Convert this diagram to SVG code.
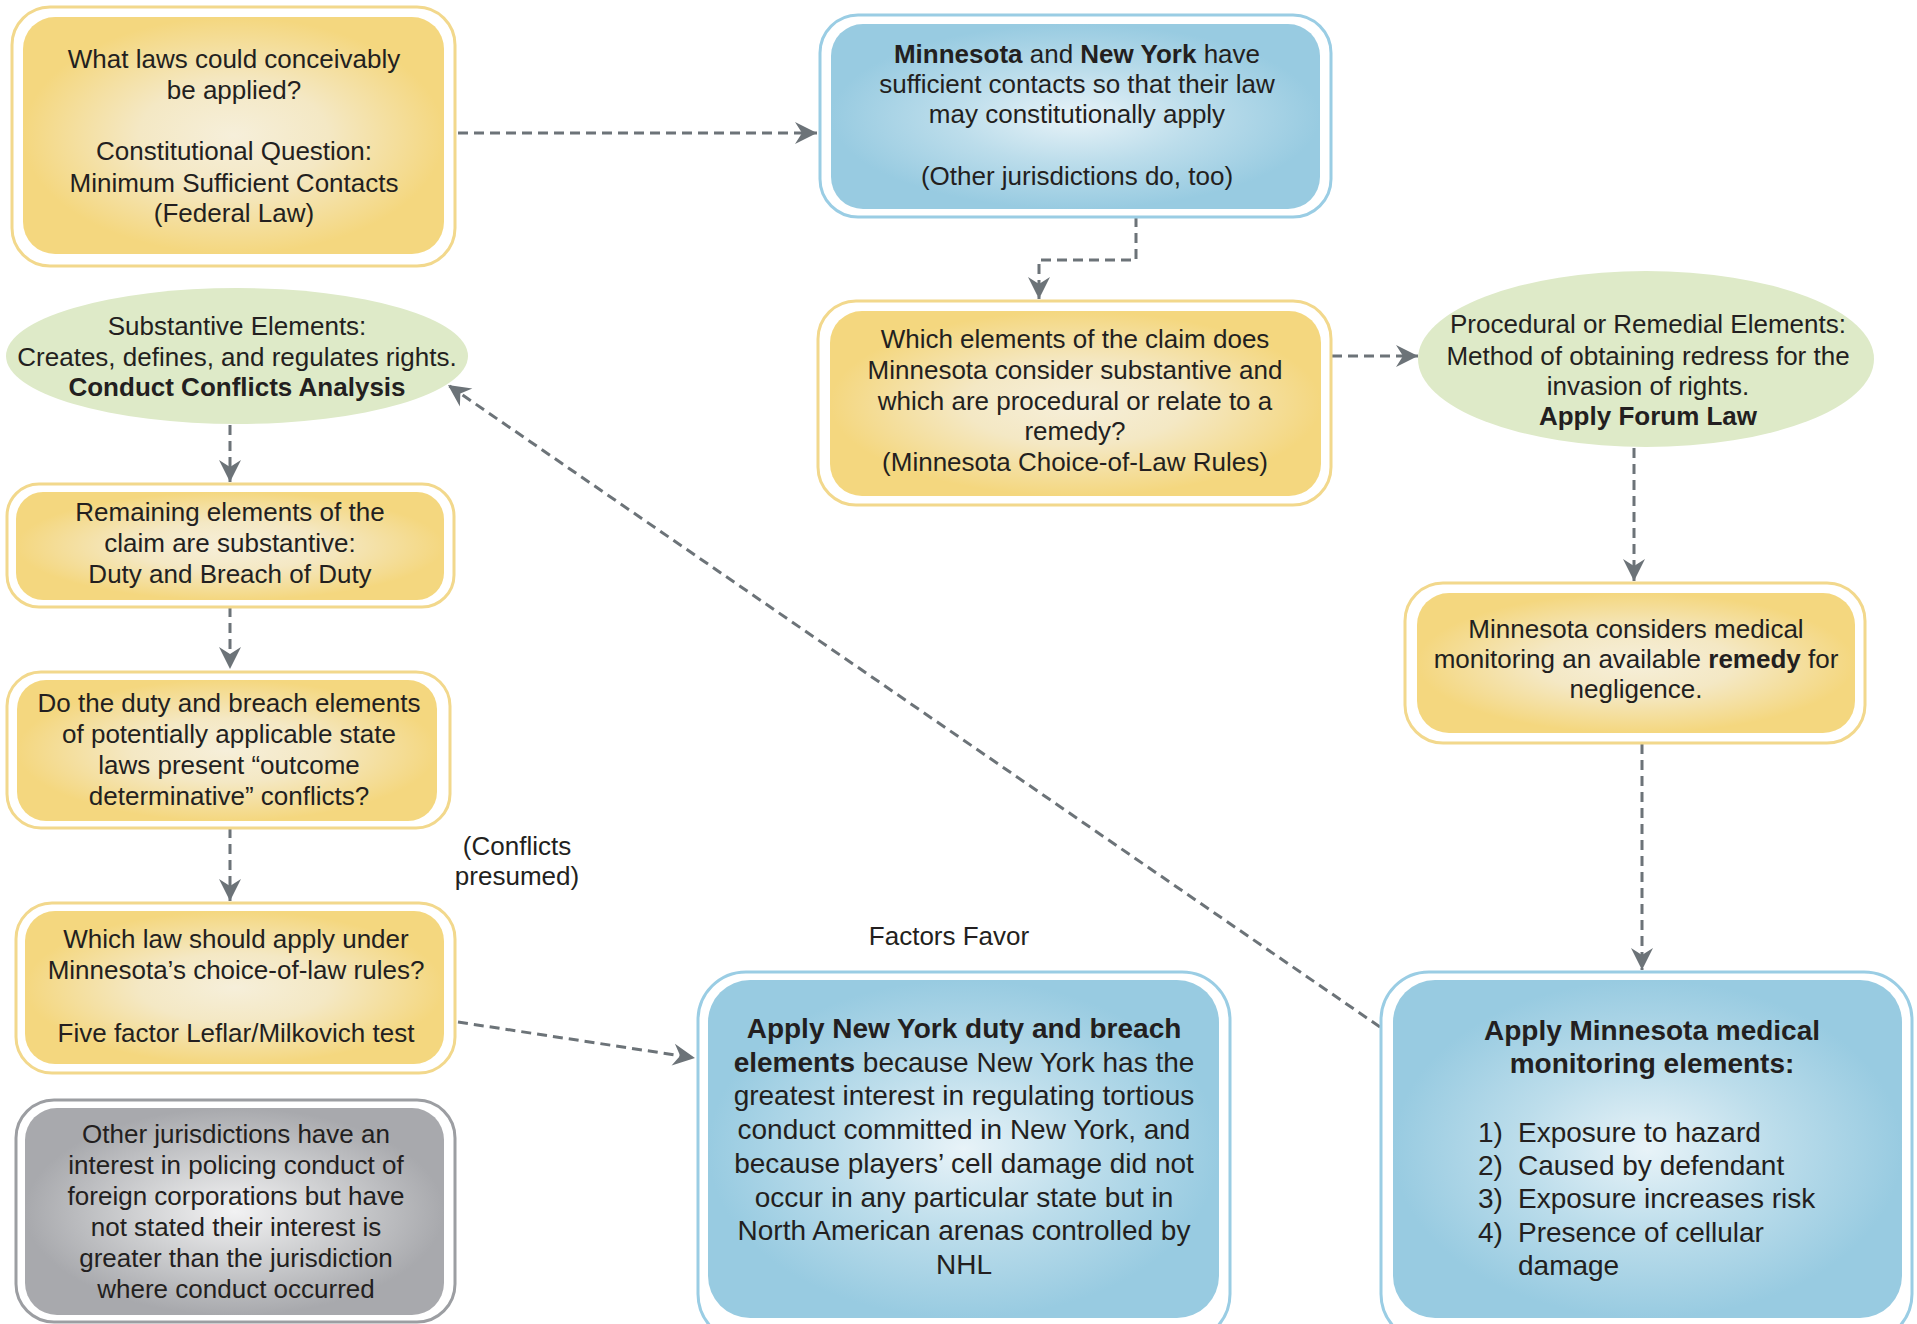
<svg xmlns="http://www.w3.org/2000/svg" width="1917" height="1324" viewBox="0 0 1917 1324">
<defs>
<radialGradient id="gy" cx="50%" cy="50%" r="50%">
<stop offset="0" stop-color="#F6EFDA"/>
<stop offset="0.45" stop-color="#F4E8C4"/>
<stop offset="1" stop-color="#F4D77F"/>
</radialGradient>
<radialGradient id="gb" cx="50%" cy="50%" r="50%">
<stop offset="0" stop-color="#E8F3F8"/>
<stop offset="0.5" stop-color="#BCDDEB"/>
<stop offset="1" stop-color="#98CBE1"/>
</radialGradient>
<radialGradient id="gg" cx="50%" cy="50%" r="50%">
<stop offset="0" stop-color="#F2F2F3"/>
<stop offset="0.5" stop-color="#CDCED0"/>
<stop offset="1" stop-color="#A8A9AD"/>
</radialGradient>
<marker id="ah" viewBox="-24 -12 26 24" refX="0" refY="0" markerWidth="26" markerHeight="24" markerUnits="userSpaceOnUse" orient="auto">
<path d="M0,0 L-22,-11 L-15,0 L-22,11 Z" fill="#6C7378"/>
</marker>
<style>
.oy{fill:#fff;stroke:#F2D88C;stroke-width:3}
.ob{fill:#fff;stroke:#9ACDE4;stroke-width:3}
.og{fill:#fff;stroke:#9C9EA2;stroke-width:3}
.iy{fill:url(#gy)}
.ib{fill:url(#gb)}
.ig{fill:url(#gg)}
.el{fill:#DEEAC8}
text{font-family:"Liberation Sans",Arial,sans-serif;font-size:26px;fill:#231F20;text-anchor:middle}
.big{font-size:28px}
.b{font-weight:bold}
.l{text-anchor:start}
.c{fill:none;stroke:#6C7378;stroke-width:3;stroke-dasharray:10 6;marker-end:url(#ah)}
</style>
</defs>

<g id="connectors">
<path class="c" d="M458,133 L817,133"/>
<path class="c" d="M1136,217 V260 H1039 V299"/>
<path class="c" d="M1332,356 L1418,356"/>
<path class="c" d="M1634,448 V581"/>
<path class="c" d="M1642,744 V970"/>
<path class="c" d="M1380,1027 L448,385"/>
<path class="c" d="M230,425 V482"/>
<path class="c" d="M230,607 V669"/>
<path class="c" d="M230,828 V901"/>
<path class="c" d="M458,1022 L695,1058"/>
</g>

<g id="n-laws">
<rect class="oy" x="12" y="7" width="443" height="259" rx="38"/>
<rect class="iy" x="23" y="17" width="421" height="237" rx="32"/>
<text x="234" y="68">What laws could conceivably</text>
<text x="234" y="99">be applied?</text>
<text x="234" y="160">Constitutional Question:</text>
<text x="234" y="192">Minimum Sufficient Contacts</text>
<text x="234" y="222">(Federal Law)</text>
</g>

<g id="n-contacts">
<rect class="ob" x="820" y="15" width="511" height="202" rx="38"/>
<rect class="ib" x="831" y="24" width="489" height="185" rx="32"/>
<text x="1077" y="63"><tspan class="b">Minnesota</tspan> and <tspan class="b">New York</tspan> have</text>
<text x="1077" y="93">sufficient contacts so that their law</text>
<text x="1077" y="123">may constitutionally apply</text>
<text x="1077" y="185">(Other jurisdictions do, too)</text>
</g>

<g id="n-which-elements">
<rect class="oy" x="818" y="301" width="513" height="204" rx="38"/>
<rect class="iy" x="830" y="311" width="491" height="185" rx="32"/>
<text x="1075" y="348">Which elements of the claim does</text>
<text x="1075" y="379">Minnesota consider substantive and</text>
<text x="1075" y="410">which are procedural or relate to a</text>
<text x="1075" y="440">remedy?</text>
<text x="1075" y="471">(Minnesota Choice-of-Law Rules)</text>
</g>

<g id="n-procedural">
<ellipse class="el" cx="1646" cy="359" rx="228" ry="88"/>
<text x="1648" y="333">Procedural or Remedial Elements:</text>
<text x="1648" y="365">Method of obtaining redress for the</text>
<text x="1648" y="395">invasion of rights.</text>
<text x="1648" y="425" class="b">Apply Forum Law</text>
</g>

<g id="n-substantive">
<ellipse class="el" cx="237" cy="356" rx="231" ry="68"/>
<text x="237" y="335">Substantive Elements:</text>
<text x="237" y="366">Creates, defines, and regulates rights.</text>
<text x="237" y="396" class="b">Conduct Conflicts Analysis</text>
</g>

<g id="n-remaining">
<rect class="oy" x="7" y="484" width="447" height="123" rx="32"/>
<rect class="iy" x="16" y="492" width="428" height="108" rx="27"/>
<text x="230" y="521">Remaining elements of the</text>
<text x="230" y="552">claim are substantive:</text>
<text x="230" y="583">Duty and Breach of Duty</text>
</g>

<g id="n-outcome">
<rect class="oy" x="7" y="672" width="443" height="156" rx="34"/>
<rect class="iy" x="17" y="680" width="420" height="141" rx="29"/>
<text x="229" y="712">Do the duty and breach elements</text>
<text x="229" y="743">of potentially applicable state</text>
<text x="229" y="774">laws present “outcome</text>
<text x="229" y="805">determinative” conflicts?</text>
</g>

<g id="n-which-law">
<rect class="oy" x="16" y="903" width="439" height="170" rx="36"/>
<rect class="iy" x="25" y="911" width="419" height="153" rx="30"/>
<text x="236" y="948">Which law should apply under</text>
<text x="236" y="979">Minnesota’s choice-of-law rules?</text>
<text x="236" y="1042">Five factor Leflar/Milkovich test</text>
</g>

<g id="n-other">
<rect class="og" x="16" y="1100" width="439" height="222" rx="38"/>
<rect class="ig" x="25" y="1108" width="419" height="207" rx="32"/>
<text x="236" y="1143">Other jurisdictions have an</text>
<text x="236" y="1174">interest in policing conduct of</text>
<text x="236" y="1205">foreign corporations but have</text>
<text x="236" y="1236">not stated their interest is</text>
<text x="236" y="1267">greater than the jurisdiction</text>
<text x="236" y="1298">where conduct occurred</text>
</g>

<g id="lbl-conflicts">
<text x="517" y="855">(Conflicts</text>
<text x="517" y="885">presumed)</text>
</g>

<g id="lbl-factors">
<text x="949" y="945">Factors Favor</text>
</g>

<g id="n-apply-ny">
<rect class="ob" x="698" y="972" width="532" height="370" rx="48"/>
<rect class="ib" x="708" y="980" width="511" height="338" rx="42"/>
<text class="big" x="964" y="1038"><tspan class="b">Apply New York duty and breach</tspan></text>
<text class="big" x="964" y="1072"><tspan class="b">elements</tspan> because New York has the</text>
<text class="big" x="964" y="1105">greatest interest in regulating tortious</text>
<text class="big" x="964" y="1139">conduct committed in New York, and</text>
<text class="big" x="964" y="1173">because players’ cell damage did not</text>
<text class="big" x="964" y="1207">occur in any particular state but in</text>
<text class="big" x="964" y="1240">North American arenas controlled by</text>
<text class="big" x="964" y="1274">NHL</text>
</g>

<g id="n-considers">
<rect class="oy" x="1405" y="583" width="460" height="160" rx="38"/>
<rect class="iy" x="1417" y="593" width="438" height="140" rx="32"/>
<text x="1636" y="638">Minnesota considers medical</text>
<text x="1636" y="668">monitoring an available <tspan class="b">remedy</tspan> for</text>
<text x="1636" y="698">negligence.</text>
</g>

<g id="n-apply-mn">
<rect class="ob" x="1381" y="972" width="531" height="370" rx="48"/>
<rect class="ib" x="1393" y="980" width="509" height="338" rx="42"/>
<text class="big b" x="1652" y="1040">Apply Minnesota medical</text>
<text class="big b" x="1652" y="1073">monitoring elements:</text>
<text class="big l" x="1478" y="1142">1)</text>
<text class="big l" x="1518" y="1142">Exposure to hazard</text>
<text class="big l" x="1478" y="1175">2)</text>
<text class="big l" x="1518" y="1175">Caused by defendant</text>
<text class="big l" x="1478" y="1208">3)</text>
<text class="big l" x="1518" y="1208">Exposure increases risk</text>
<text class="big l" x="1478" y="1242">4)</text>
<text class="big l" x="1518" y="1242">Presence of cellular</text>
<text class="big l" x="1518" y="1275">damage</text>
</g>
</svg>
